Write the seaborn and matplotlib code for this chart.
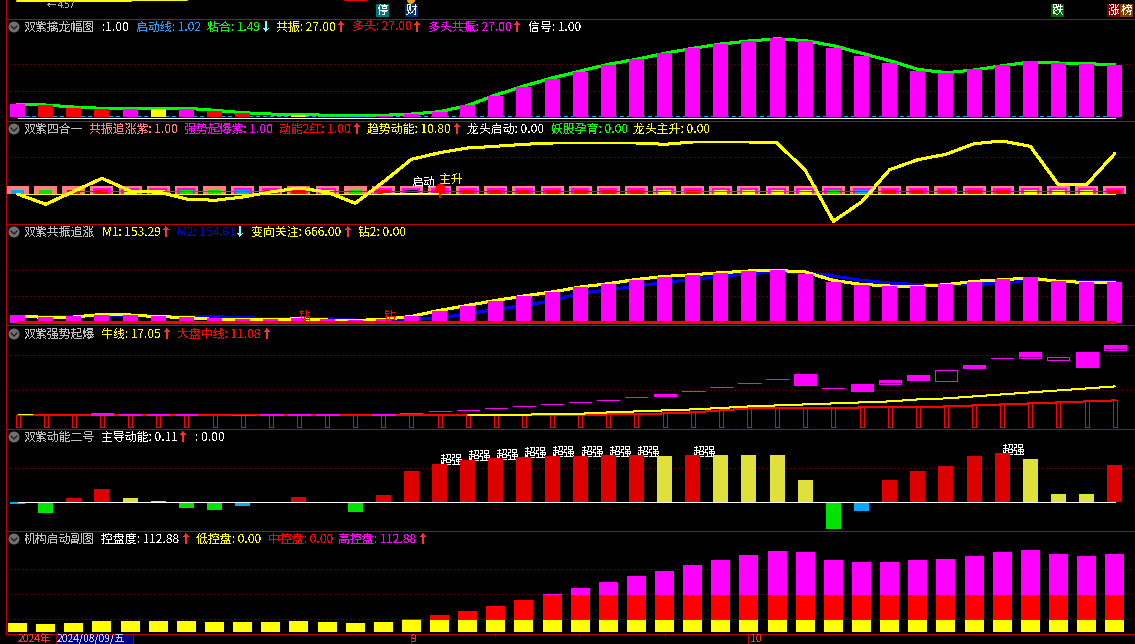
import numpy as np
import matplotlib
matplotlib.use('Agg')
import matplotlib.pyplot as plt
from matplotlib.patches import Circle, Rectangle
import seaborn as sns

W, H = 1135, 644
LEFT = 6
BAR_0, BAR_STEP = 17.6, 28.13
RED_LINE = '#c00000'
PX = 0.72	# one screen pixel in points

COLORS = {'M': '#ff00ff', 'R': '#ff0000', 'Y': '#ffff00', 'G': '#00e400', 'B': '#00aaff',
	'S': '#ff8080', 'r': '#dd0000', 'y': '#e0e03c', 'K': '#000000'}

bars = list(range(40))

swing_bars = [13, 11.7, 9, 8, 7.7, 7.7, 7.7, 5.7, 3.7, 0, 2, 0, 1, 1, 3, 5.3, 11.7, 21, 30, 38,
	45, 52, 58, 64, 69.3, 73, 76, 79, 76, 69.3, 61.3, 54, 46, 44, 48, 52, 56, 54, 53, 52]
swing_cols = list('MRRRMYMRRKYKBMMMMMMM') + list('M' * 20)
swing_line = [12.7, 12, 10, 8.7, 8.7, 8.7, 8.7, 6.7, 4.3, 3, 2.7, 1.7, 1.3, 1.7, 3, 5.3, 11.5, 22, 31, 39,
	46, 52.7, 57.7, 63.7, 68.7, 73, 76, 78.3, 76.3, 71.3, 63.7, 56.3, 47.7, 44.3, 47, 51.3, 55, 54, 53.3, 52.3]
swing_start = [0.7] * 40
swing_zero = [-0.7] * 40

four_outer = [8] * 40
four_mid = [0, 0, 0, 6, 6, 6, 6, 0, 6, 6, 6, 6, 0, 6, 6, 6, 6, 6, 6, 6,
	6, 6, 6, 6, 6, 6, 6, 6, 6, 6, 6, 6, 6, 6, 6, 6, 6, 6, 6, 6]
four_inner = [4] * 40
four_cols = list('BGRRYYGGBRRYGRKRRRRR') + list('RRRYRYYYYGBRRRRRYYYR')
four_trend = [0, -10.3, 2.7, 15.7, 3, 2, -5, -6.3, -3, 2, 6, 2, -9.3, 12, 34.7, 41.3, 46, 47.7, 49.7, 51,
	51, 51, 51, 49.7, 52, 52, 52, 51, 23.7, -27.3, -8, 24.3, 34.3, 39.7, 50.3, 53, 47.7, 9.3, 9.3, 40.3]
four_red = [3] * 38
four_magenta_a = [3] * 7
four_magenta_b = [3] * 6
four_zero = [0] * 40
four_white = [1.2] * 3

reso_bars = [7.7, 5.7, 6.7, 7.7, 7.7, 6.7, 5.7, 4.7, 3.7, 3.7, 4.7, 3.7, 2.7, 3.7, 6.7, 11.7, 16.7, 21.7, 26.7, 30.7,
	35.7, 38.7, 42.7, 45.7, 47.7, 49.7, 51.7, 52.7, 48.7, 40.7, 37.7, 36.7, 36.7, 38.7, 40.7, 43.7, 45.7, 41.7, 40.7, 40.7]
reso_m1 = [6.7, 5.3, 5.7, 8.3, 7.7, 6, 5.3, 3.3, 2.7, 3, 4, 2.7, 2.3, 3.3, 6.3, 12.3, 17.3, 22.3, 26.7, 30.7,
	35.7, 39, 43.3, 46.3, 48, 50, 51.7, 52.3, 50.7, 42.3, 38.3, 36.7, 36.3, 38, 41.3, 43, 44.7, 41.3, 40.3, 40.7]
reso_m2 = [6.3, 6.7, 6.7, 6.7, 6.7, 6.7, 6.3, 6, 5, 4.3, 4, 4, 2.7, 2.7, 3.3, 4.7, 9, 13.3, 17.3, 22,
	29.7, 32.7, 36.7, 40.3, 43.3, 46.3, 49, 51, 50, 46.7, 42.3, 39.7, 38, 38, 39, 40, 42.7, 42.3, 41.3, 40.7]
reso_zero = [-0.7] * 40

burst_red = [11.3] * 21 + [12.3, 12.3, 13.3, 14.3, 16.3, 18.3, 18.3, 18.3, 18.3, 19.3, 19.3, 19.3, 20.3, 21.3, 22.3, 23.3, 24.3, 25.3, 26.3]
burst_yellow = [12, 12, 12, 12.7, 13, 14.3, 15.3, 16.3, 17.3, 18.7, 20.3, 21.3, 22.3, 23.3, 24.3, 25.3, 27.3, 28.3, 30.3, 32.3, 34.3, 36.3, 38.3, 40.3]
burst_first = [12.3, 12.3]
candle_bar = [3, 4, 5, 6, 8, 9, 10, 11, 13, 14, 15, 16, 17, 18, 19, 20, 21, 22, 23, 24, 25, 26, 27, 28, 29, 30, 31, 32, 33, 34, 35, 36, 37, 38, 39]
candle_low = [11.7, 11.3, 11.7, 11.3, 11.3, 11.3, 11.3, 11.3, 11.3, 13.3, 15.3, 16.3, 18.3, 20.3, 22.3, 24.3, 26.3, 29.3, 30.7, 35.3, 39.3, 43.3, 47.3, 41.7, 38.3, 35.7, 42.7, 46.7, 46, 58.7, 68.7, 68.7, 67, 59.7, 76.7]
candle_high = [13.7, 12.7, 12.7, 12.7, 11.5, 12.7, 12.7, 12.7, 12.7, 13.5, 15.5, 16.5, 18.5, 20.5, 22.5, 24.5, 26.5, 29.5, 32.7, 35.5, 39.5, 43.5, 47.5, 52.7, 38.5, 42.7, 46.7, 51.7, 56.7, 61.7, 68.9, 74.7, 69.7, 74.7, 81.7]
candle_fill = [11.7, 11.3, 11.7, 11.3, 11.3, 11.3, 11.3, 11.3, 11.3, 13.3, 15.3, 16.3, 18.3, 20.3, 22.3, 24.3, 26.3, 29.3, 30.7, 35.3, 39.3, 43.3, 47.3, 41.7, 38.3, 35.7, 44, 46.7, 56.7, 58.7, 68.7, 70, 69.7, 59.7, 78]

power_bars = [-2, -11, 4, 13, 4, 1, -6, -8, -4, 0, 5, 0, -10, 7, 31, 38, 42, 44, 45, 46,
	46, 47, 47, 46, 47, 47, 47, 47, 22, -27, -9, 22, 31, 36, 46, 49, 43, 8, 8, 37]
power_cols = list('BGrryyGGBKrKGrrrrrrr') + list('rrryryyyyGBrrrrryyyr')
power_zero = [0] * 40
strong_bar = [15, 16, 17, 18, 19, 20, 21, 22, 24, 35]
strong_y = [42, 46, 47, 49, 50, 50, 50, 50, 50, 51.5]

ctrl_total = [9, 8, 9, 11, 11, 11, 11, 10, 10, 10, 11, 10, 9, 10, 13, 17, 21, 26, 32, 38,
	44, 50, 56, 61, 67, 72, 77, 81, 80, 72, 70, 70, 72, 73, 76, 80, 82, 78, 76, 78]
ctrl_mid_cap = 37
ctrl_low_cap = 12

head_1 = [('双紫擒龙幅图', '#c0c0c0', 24), (':1.00', 'white', 102), ('启动线: 1.02', '#1e9fff', 136),
	('粘合: 1.49', '#00ff00', 207), ('共振: 27.00', '#ffff00', 276), ('多头: 27.00', '#ff0000', 352),
	('多头共振: 27.00', '#ff00ff', 428), ('信号: 1.00', 'white', 528)]
arrows_1 = [(265.6, '↓', '#80ffff'), (341, '↑', '#ff3030'), (417, '↑', '#ff3030'), (517, '↑', '#ff3030')]
head_2 = [('双紫四合一', '#c0c0c0', 24), ('共振追涨紫: 1.00', '#ff8080', 89), ('强势起爆紫: 1.00', '#ff00ff', 184),
	('动能2红: 1.00', '#ff0000', 279), ('趋势动能: 10.80', '#ffff00', 367), ('龙头启动: 0.00', 'white', 467),
	('妖股孕育: 0.00', '#00ff00', 551), ('龙头主升: 0.00', '#ffff00', 633)]
arrows_2 = [(357, '↑', '#ff3030'), (456.5, '↑', '#ff3030')]
head_3 = [('双紫共振追涨', '#c0c0c0', 24), ('M1: 153.29', '#ffff00', 102), ('M2: 154.61', '#0000d8', 177),
	('变向关注: 666.00', '#ffff00', 251), ('钻2: 0.00', '#ffff00', 358)]
arrows_3 = [(166, '↑', '#ff3030'), (240, '↓', '#80ffff'), (347.5, '↑', '#ff3030')]
head_4 = [('双紫强势起爆', '#c0c0c0', 24), ('牛线: 17.05', '#ffff00', 101), ('大盘中线: 11.08', '#ff0000', 177)]
arrows_4 = [(166.7, '↑', '#ff3030'), (266.7, '↑', '#ff3030')]
head_5 = [('双紫动能二号', '#c0c0c0', 24), ('主导动能: 0.11', 'white', 101), (': 0.00', 'white', 194.6)]
arrows_5 = [(183, '↑', '#ff3030')]
head_6 = [('机构启动副图', '#c0c0c0', 24), ('控盘度: 112.88', 'white', 101), ('低控盘: 0.00', '#ffff00', 196.4),
	('中控盘: 0.00', '#ff0000', 268), ('高控盘: 112.88', '#ff00ff', 338)]
arrows_6 = [(186, '↑', '#ff3030'), (423, '↑', '#ff3030')]

sns.set_theme(style = 'dark', rc = {'figure.facecolor': 'black', 'axes.facecolor': 'black', 'text.antialiased': False})
plt.rcParams['font.family'] = ['Noto Sans CJK SC', 'DejaVu Sans']

fig = plt.figure(figsize = (W / 100, H / 100), dpi = 100)

def panel(top, bottom, zero, dotted):
	ax = fig.add_axes([LEFT / W, 1 - bottom / H, (W - LEFT) / W, (bottom - top) / H])
	ax.set_axis_off()
	for d in dotted:
		ax.axhline(d, color = '#b00000', lw = PX, ls = (0, (1, 3)), zorder = 0)
	ax.zero, ax.top_, ax.bottom_ = zero, top, bottom
	return ax

def finish(ax):
	ax.set_xlim((LEFT - BAR_0) / BAR_STEP, (W - BAR_0) / BAR_STEP)
	ax.set_ylim(ax.zero - ax.bottom_, ax.zero - ax.top_)

def draw_bars(ax, vals, cols, px):
	sns.barplot(x = bars, y = vals, hue = cols, palette = COLORS, dodge = False,
		width = px / BAR_STEP, saturation = 1, linewidth = 0, errorbar = None, legend = False, ax = ax,
		antialiased = False)

def draw_line(ax, x, vals, col, px = 2, **kw):
	sns.lineplot(x = x, y = vals, color = col, linewidth = px * PX, estimator = None, sort = False,
		antialiased = False, ax = ax, **kw)

# panel 1, lines stay behind the bars
ax1 = panel(18.5, 120, 117, [52.7, 25.7])
draw_line(ax1, bars, swing_line, '#00ff00', zorder = 0.9)
draw_line(ax1, bars, swing_start, COLORS['B'], px = 1, dashes = (4, 4), zorder = 0.9)
draw_bars(ax1, swing_bars, swing_cols, 15)
draw_line(ax1, bars, swing_zero, 'white', px = 1)
finish(ax1)

# panel 2
ax2 = panel(120, 223, 194, [37.3])
draw_bars(ax2, four_outer, ['S'] * 40, 23)
draw_bars(ax2, four_mid, ['M'] * 40, 18)
draw_bars(ax2, four_inner, four_cols, 13)
draw_line(ax2, bars[2:], four_red, COLORS['R'], px = 1)
draw_line(ax2, bars[3:10], four_magenta_a, COLORS['M'], px = 1)
draw_line(ax2, bars[23:29], four_magenta_b, COLORS['M'], px = 1)
draw_line(ax2, bars, four_zero, COLORS['Y'], px = 1)
draw_line(ax2, bars[13:16], four_white, 'white', px = 1)
draw_line(ax2, bars, four_trend, COLORS['Y'], px = 2)
ax2.vlines(15, -4, 7, color = COLORS['R'], lw = 2 * PX)
ax2.scatter([15], [6], s = 50, color = COLORS['R'], zorder = 5, lw = 0)
ax2.text(14, 12, '启动', color = 'white', fontsize = 8.6, ha = 'left', va = 'center')
ax2.text(15, 15, '主升', color = COLORS['Y'], fontsize = 8.6, ha = 'left', va = 'center')
finish(ax2)

# panel 3
ax3 = panel(223, 324, 322.7, [53, 26.3])
draw_line(ax3, bars, reso_m2, '#0000ff', zorder = 0.9)
draw_line(ax3, bars, reso_m1, COLORS['Y'], zorder = 0.95)
draw_bars(ax3, reso_bars, ['M'] * 40, 15)
draw_line(ax3, bars, reso_zero, COLORS['R'], px = 2.5)
for i in [10, 13]:
	ax3.text(i, 6.5, '钻', color = COLORS['R'], fontsize = 8.6, ha = 'left', va = 'center')
finish(ax3)

# panel 4
ax4 = panel(324, 428, 426.7, [71.3, 36.3])
sns.barplot(x = bars, y = burst_red, fill = False, color = COLORS['R'], width = 4 / BAR_STEP,
	linewidth = PX, errorbar = None, antialiased = False, ax = ax4)
draw_line(ax4, bars, burst_red, COLORS['R'], px = 1)
draw_line(ax4, bars[16:], burst_yellow, COLORS['Y'], px = 1)
draw_line(ax4, [0, 0.5], burst_first, COLORS['Y'], px = 1)
ax4.bar(candle_bar, np.array(candle_high) - np.array(candle_low), bottom = candle_low, width = 22 / BAR_STEP,
	facecolor = 'black', edgecolor = COLORS['M'], linewidth = PX, antialiased = False, zorder = 3)
ax4.bar(candle_bar, np.array(candle_high) - np.array(candle_fill), bottom = candle_fill, width = 22 / BAR_STEP,
	facecolor = COLORS['M'], linewidth = 0, antialiased = False, zorder = 3)
finish(ax4)

# panel 5
ax5 = panel(428, 530, 502, [33.7])
for i, y in zip(strong_bar, strong_y):
	ax5.text(i, y, '超强', color = 'white', fontsize = 8.6, ha = 'left', va = 'center', zorder = 0.5)
draw_bars(ax5, power_bars, power_cols, 15)
draw_line(ax5, bars, power_zero, 'white', px = 1)
finish(ax5)

# panel 6
ax6 = panel(530, 633, 632, [62.7, 37.7, 12.7])
draw_bars(ax6, ctrl_total, ['M'] * 40, 19)
draw_bars(ax6, np.minimum(ctrl_total, ctrl_mid_cap), ['R'] * 40, 19)
draw_bars(ax6, np.minimum(ctrl_total, ctrl_low_cap), ['Y'] * 40, 19)
finish(ax6)

# overlay in screen pixels: borders, header texts, badges, time axis
ov = fig.add_axes([0, 0, 1, 1], facecolor = 'none')
ov.set_xlim(0, W)
ov.set_ylim(H, 0)
ov.set_axis_off()

for y in [18.5, 120.5, 223.5, 324.5, 428.5, 530.5, 633.5]:
	ov.hlines(y, LEFT, W, color = RED_LINE, lw = PX, antialiased = False)
ov.vlines(5.5, 0, 633, color = RED_LINE, lw = PX, antialiased = False)

rows = [(27, head_1, arrows_1), (129, head_2, arrows_2), (232, head_3, arrows_3),
	(334, head_4, arrows_4), (437, head_5, arrows_5), (539, head_6, arrows_6)]
for y, head, arrows in rows:
	ov.add_patch(Circle((14, y), 5.5, color = '#707070', lw = 0))
	ov.plot([11, 14, 17], [y - 1, y + 2, y - 1], color = '#202020', lw = 1)
	for s, col, x in head:
		ov.text(x, y, s, color = col, fontsize = 8.6, va = 'center', ha = 'left')
	for x, s, col in arrows:
		ov.text(x, y, s, color = col, fontsize = 8.6, va = 'center', ha = 'center', fontweight = 'bold')

# cut off top strip
ov.plot([17, 131], [1, 1], color = COLORS['Y'], lw = 2 * PX)
ov.plot([131, 187], [0, 0], color = COLORS['Y'], lw = 2 * PX)
ov.plot([345, 366], [0, 0], color = COLORS['R'], lw = 2 * PX)
ov.text(47, 5.5, '←', color = '#b0b0b0', fontsize = 6.5, va = 'center')
ov.text(58, 5.5, '4.57', color = '#b0b0b0', fontsize = 6.5, va = 'center')
ov.add_patch(Circle((411, 0), 4, color = '#f0a020', lw = 0))
badges = [(376, 13, '停', '#007878'), (405, 13, '财', '#003070'), (1051, 13, '跌', '#006800'),
	(1107, 13, '涨', '#800000'), (1120, 13, '榜', '#804000')]
for x, w, s, col in badges:
	ov.add_patch(Rectangle((x, 4), w, 13, color = col, lw = 0))
	ov.text(x + w / 2, 10.5, s, color = 'white', fontsize = 8.6, ha = 'center', va = 'center')

# time axis
ov.text(18, 638.8, '2024年', color = '#ff3030', fontsize = 7.4, va = 'center')
ov.add_patch(Rectangle((56, 634), 77, 10, facecolor = '#000080', edgecolor = '#a00000', lw = PX))
ov.text(57, 638.8, '2024/08/09/五', color = '#d0d0ff', fontsize = 7.4, va = 'center')
ov.vlines([410.5, 748], 633, 644, color = RED_LINE, lw = PX)
ov.vlines([495, 579, 664.5], 633, 636, color = RED_LINE, lw = PX)
ov.text(412, 638.8, '9', color = '#ff3030', fontsize = 7.4, va = 'center')
ov.text(750, 638.8, '10', color = '#ff3030', fontsize = 7.4, va = 'center')

fig.savefig('out.png', dpi = 100, facecolor = 'black')
